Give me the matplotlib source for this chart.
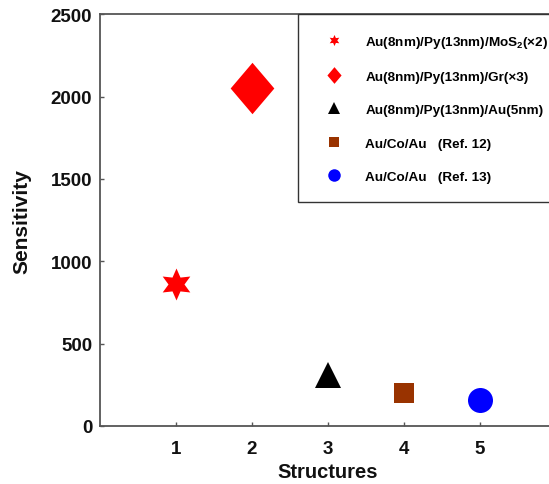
import matplotlib
matplotlib.use("Agg")
import matplotlib.pyplot as plt

plt.rcParams['font.family'] = ['Liberation Sans', 'DejaVu Sans']
plt.rcParams['font.weight'] = 'bold'
plt.rcParams['mathtext.fontset'] = 'custom'
plt.rcParams['mathtext.rm'] = 'Liberation Sans:bold'
plt.rcParams['mathtext.bf'] = 'Liberation Sans:bold'
plt.rcParams['mathtext.it'] = 'Liberation Sans:bold'

structures = [1, 2, 3, 4, 5]
sensitivity = [865, 2055, 310, 200, 158]
labels = ['Au(8nm)/Py(13nm)/MoS$_2$(×2)',
          'Au(8nm)/Py(13nm)/Gr(×3)',
          'Au(8nm)/Py(13nm)/Au(5nm)',
          'Au/Co/Au   (Ref. 12)',
          'Au/Co/Au   (Ref. 13)']
colors = ['#ff0000', '#ff0000', '#000000', '#993300', '#0000ff']
diamond = [(0, 1), (0.85, 0), (0, -1), (-0.85, 0), (0, 1)]
markers = [(6, 1, 0), diamond, '^', 's', 'o']
sizes = [23, 37, 19, 15, 18]
xticks = [1, 2, 3, 4, 5]
yticks = [0, 500, 1000, 1500, 2000, 2500]

fig = plt.figure(figsize=(5.49, 4.85), dpi=100)
ax = fig.add_axes([0.182, 0.1196, 0.8305, 0.849])

for x, y, c, m, s, lab in zip(structures, sensitivity, colors, markers, sizes, labels):
    ax.plot([x], [y], linestyle='none', marker=m, color=c, markersize=s,
            markeredgewidth=0, label=lab)

ax.set_xlim(0, 6)
ax.set_ylim(0, 2500)
ax.set_xticks(xticks)
ax.set_yticks(yticks)
ax.tick_params(direction='in', length=3, width=1, colors='#555555',
               labelcolor='#111111', labelsize=13.5)
ax.tick_params(axis='x', pad=10)
ax.tick_params(axis='y', pad=5.5)
for lab in ax.get_xticklabels() + ax.get_yticklabels():
    lab.set_fontweight('bold')
for sp in ax.spines.values():
    sp.set_color('#555555')
    sp.set_linewidth(1.3)
ax.spines['right'].set_visible(False)

ax.set_xlabel('Structures', fontsize=14.5, fontweight='bold', labelpad=4, color='#111111')
ax.set_ylabel('Sensitivity', fontsize=15, fontweight='bold', labelpad=14, color='#111111')

leg_sizes = [8, 12, 9, 7, 9]
leg = ax.legend(loc='upper left', bbox_to_anchor=(0.543, 0.969),
                bbox_transform=fig.transFigure, borderaxespad=0,
                frameon=True, fancybox=False, edgecolor='#333333',
                fontsize=9.7, labelspacing=1.55, handletextpad=1.05,
                borderpad=1.45, handlelength=2.5, framealpha=1)
for h, s in zip(leg.legend_handles, leg_sizes):
    h.set_markersize(s)
leg.get_frame().set_linewidth(1.0)
for t in leg.get_texts():
    t.set_fontweight('bold')

fig.savefig('out.png', dpi=100)
